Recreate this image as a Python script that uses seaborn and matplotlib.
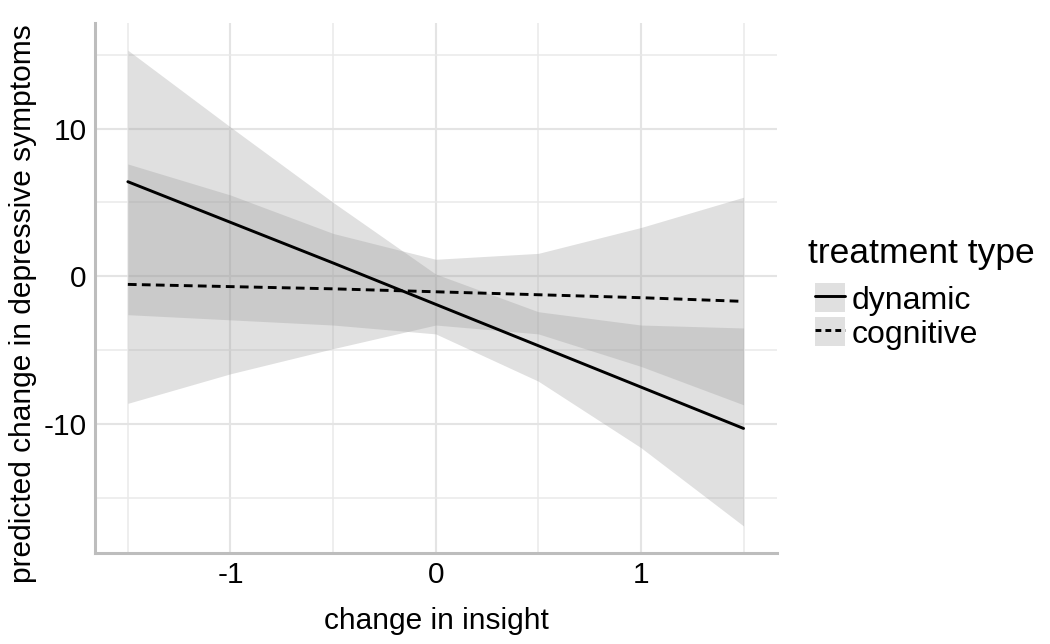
import numpy as np
import pandas as pd
import matplotlib.pyplot as plt
import seaborn as sns
from matplotlib.patches import Patch
from matplotlib.lines import Line2D
from matplotlib.legend_handler import HandlerTuple

# Values (predicted values with 95% CI)
insight = [-1.5, -1.0, -0.5, 0.0, 0.5, 1.0, 1.5]
dynamic_fit = [6.4, 3.65, 0.9, -1.9, -4.7, -7.5, -10.3]
dynamic_lo = [-2.6, -2.95, -3.3, -3.9, -7.1, -11.6, -16.9]
dynamic_hi = [15.3, 10.1, 5.0, 0.15, -2.4, -3.3, -3.5]
cognitive_fit = [-0.55, -0.7, -0.85, -1.05, -1.25, -1.45, -1.7]
cognitive_lo = [-8.6, -6.6, -4.9, -3.3, -3.9, -6.1, -8.7]
cognitive_hi = [7.6, 5.5, 2.9, 1.15, 1.55, 3.3, 5.35]
groups = ["dynamic", "cognitive"]

df = pd.DataFrame({
    "insight": insight * 2,
    "fit": dynamic_fit + cognitive_fit,
    "lo": dynamic_lo + cognitive_lo,
    "hi": dynamic_hi + cognitive_hi,
    "treatment type": ["dynamic"] * 7 + ["cognitive"] * 7,
})

sns.set_style("white")
plt.rcParams["font.family"] = ["Liberation Sans", "DejaVu Sans"]
plt.rcParams["axes.unicode_minus"] = False
plt.rcParams["text.color"] = "black"
plt.rcParams["axes.labelcolor"] = "black"

fig, ax = plt.subplots(figsize=(10.5, 6.44), dpi=100)
fig.subplots_adjust(left=0.0905, right=0.74, bottom=0.142, top=0.964)

ribbon_col = "#999999"
for g in groups:
    sub = df[df["treatment type"] == g]
    ax.fill_between(sub["insight"], sub["lo"], sub["hi"],
                    color=ribbon_col, alpha=0.3, linewidth=0, zorder=2)

dash_map = {"dynamic": "", "cognitive": (3.0, 1.8)}
sns.lineplot(data=df, x="insight", y="fit", style="treatment type",
             style_order=groups, dashes=dash_map, color="black",
             linewidth=2.1, legend=False, ax=ax, zorder=3)

# axes, grid
ax.set_xlim(-1.66, 1.663)
ax.set_ylim(-18.7, 17.13)
ax.set_xticks([-1, 0, 1])
ax.set_xticklabels(["-1", "0", "1"])
ax.set_yticks([-10, 0, 10])
ax.set_yticklabels(["-10", "0", "10"])
ax.set_xticks([-1.5, -0.5, 0.5, 1.5], minor=True)
ax.set_yticks([-15, -5, 5, 15], minor=True)
ax.grid(which="major", color="#e4e4e4", linewidth=1.5)
ax.grid(which="minor", color="#e9e9e9", linewidth=1.1)
ax.set_axisbelow(True)
ax.tick_params(which="both", length=0, labelsize=21.5, colors="black")
ax.tick_params(axis="x", pad=6)
ax.tick_params(axis="y", pad=6)

for side in ["top", "right"]:
    ax.spines[side].set_visible(False)
for side in ["left", "bottom"]:
    ax.spines[side].set_color("#bdbdbd")
    ax.spines[side].set_linewidth(2.2)

ax.set_xlabel("change in insight", fontsize=21.5, labelpad=13)
ax.set_ylabel("predicted change in depressive symptoms", fontsize=21.5, labelpad=5)
ax.yaxis.set_label_coords(-0.085, 0.47)

# legend: grey key box with line on top, title drawn separately
fig.text(808 / 1050, 1 - 263 / 644, "treatment type", fontsize=25.5,
         ha="left", va="baseline")
handles = []
for g in groups:
    box = Patch(facecolor=ribbon_col, alpha=0.3, edgecolor="none")
    ln = Line2D([], [], color="black", linewidth=2.1,
                linestyle="-" if g == "dynamic" else (0, (2.0, 1.4)))
    handles.append((box, ln))
leg = fig.legend(handles, groups, handler_map={tuple: HandlerTuple(ndivide=1, pad=0)},
                 loc="upper left", bbox_to_anchor=(815 / 1050, 1 - 283 / 644),
                 frameon=False, fontsize=23, handlelength=0.94,
                 handleheight=1.03, handletextpad=0.2, labelspacing=0.05,
                 borderpad=0, borderaxespad=0)

plt.savefig("out.png", dpi=100)
